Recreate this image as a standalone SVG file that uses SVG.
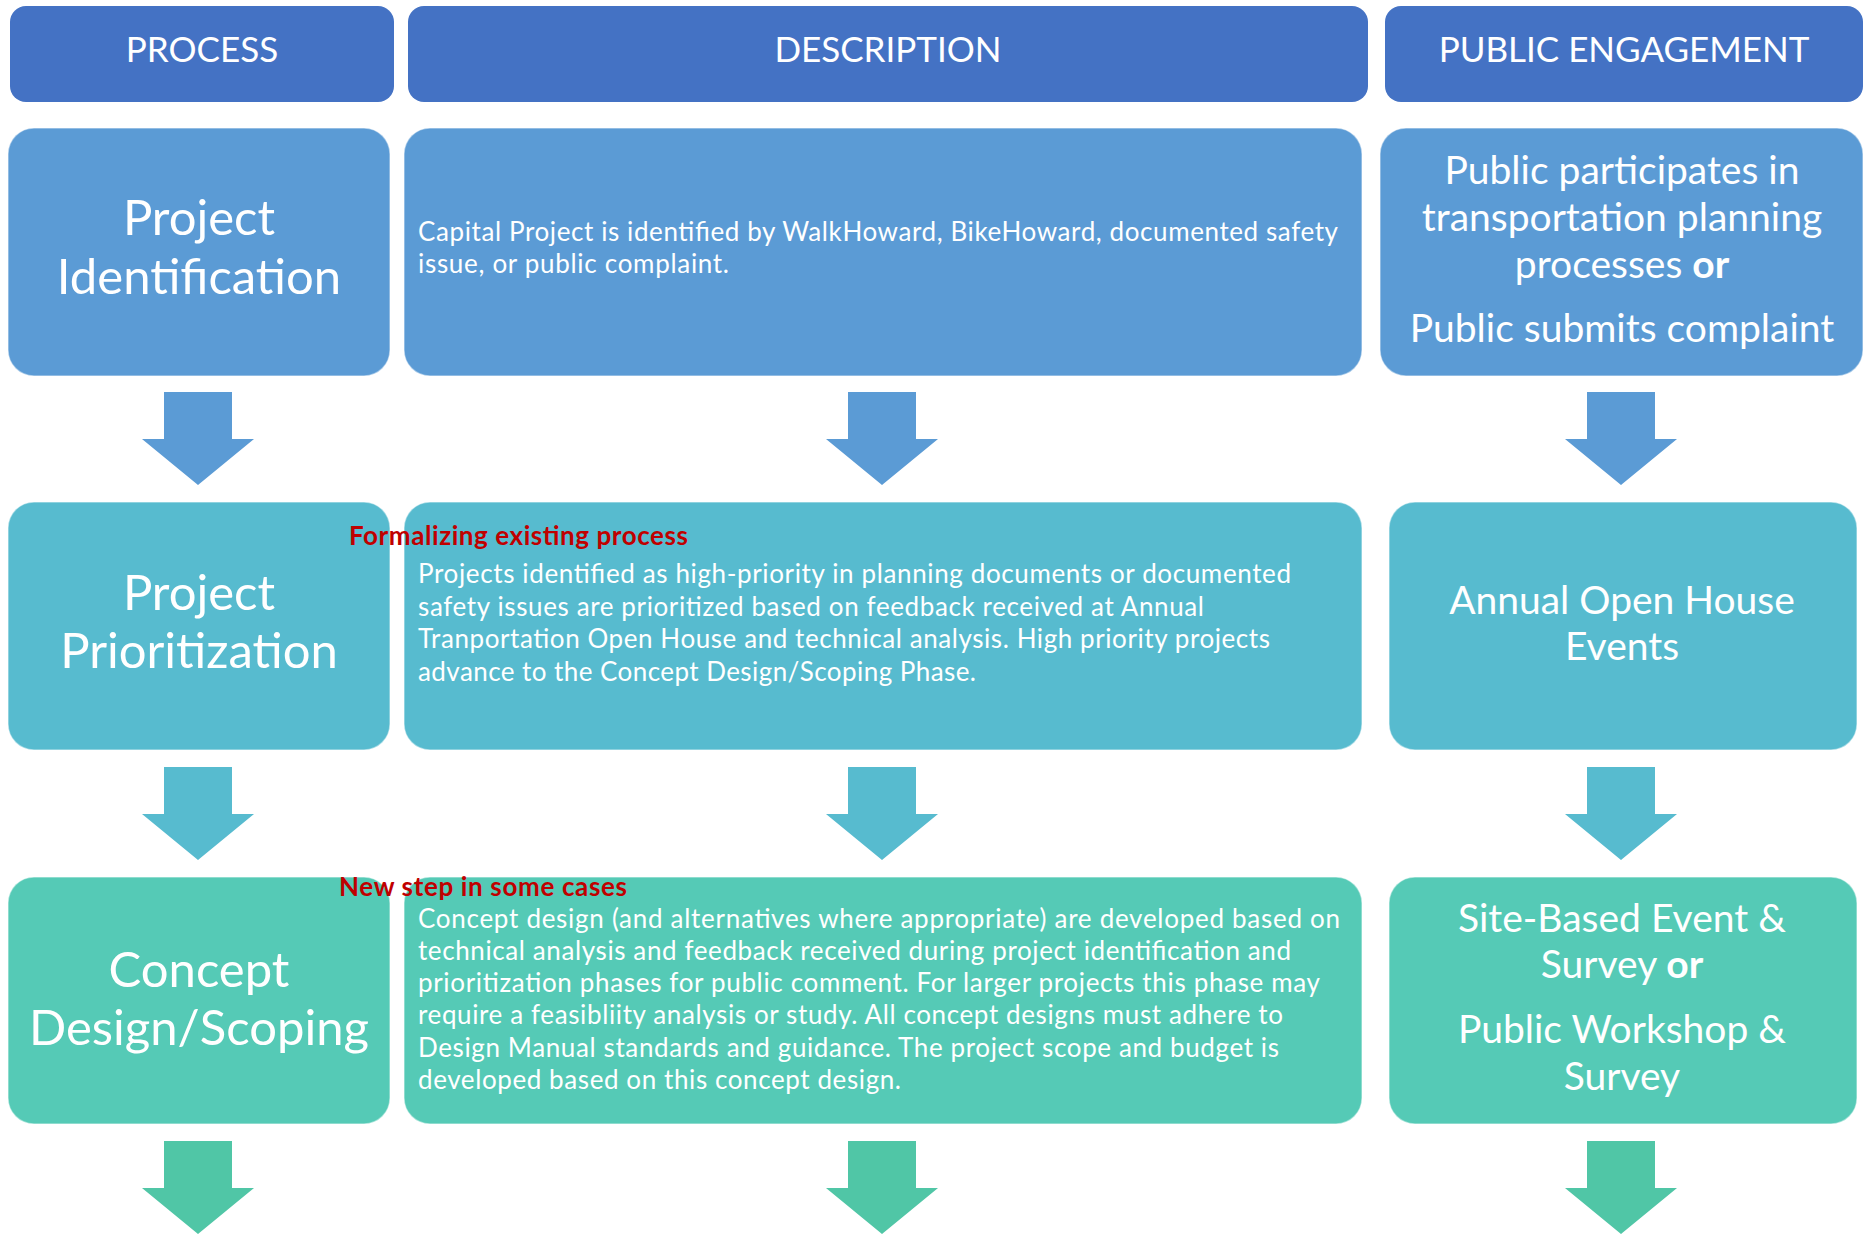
<svg xmlns="http://www.w3.org/2000/svg" width="1864" height="1234" viewBox="0 0 1864 1234">
<defs>
<style>
.hdr{fill:#4472C4}
.r1{fill:#5B9BD5}
.r2{fill:#57BBCF}
.r3{fill:#55CAB6}
.box{stroke:#ffffff;stroke-opacity:0.45;stroke-width:1.5}
.a1{fill:#5B9BD5}
.a2{fill:#57BBCF}
.a3{fill:#50C6A6}
text{font-family:Lato,"Open Sans","Liberation Sans",sans-serif;fill:#ffffff}
.h{font-size:35px;text-anchor:middle}
.p{font-size:49px;text-anchor:middle}
.e{font-size:39px;text-anchor:middle}
.d{font-size:26px}
.red{font-size:26px;font-weight:bold;fill:#C00000}
.b{font-weight:bold}
</style>
<path id="arrow" d="M-34,0 H34 V47 H56 L0,93 L-56,47 H-34 Z"/>
</defs>

<g id="header-process"><rect class="hdr" x="10" y="6" width="384" height="96" rx="16"/><text class="h" x="202" y="62">PROCESS</text></g>
<g id="header-description"><rect class="hdr" x="408" y="6" width="960" height="96" rx="16"/><text class="h" x="888" y="62">DESCRIPTION</text></g>
<g id="header-public"><rect class="hdr" x="1385" y="6" width="478" height="96" rx="16"/><text class="h" x="1624" y="62">PUBLIC ENGAGEMENT</text></g>

<g id="connectors">
<use href="#arrow" class="a1" x="198" y="392"/>
<use href="#arrow" class="a1" x="882" y="392"/>
<use href="#arrow" class="a1" x="1621" y="392"/>
<use href="#arrow" class="a2" x="198" y="767"/>
<use href="#arrow" class="a2" x="882" y="767"/>
<use href="#arrow" class="a2" x="1621" y="767"/>
<use href="#arrow" class="a3" x="198" y="1141"/>
<use href="#arrow" class="a3" x="882" y="1141"/>
<use href="#arrow" class="a3" x="1621" y="1141"/>
</g>

<g id="process-identification"><rect class="r1 box" x="8" y="128" width="382" height="248" rx="26"/>
<text class="p" x="199" y="235">Project</text><text class="p" x="199" y="294">Identification</text></g>

<g id="desc-identification"><rect class="r1 box" x="404" y="128" width="958" height="248" rx="26"/>
<text class="d" x="418" y="241" textLength="920">Capital Project is identified by WalkHoward, BikeHoward, documented safety</text>
<text class="d" x="418" y="273" textLength="311">issue, or public complaint.</text></g>

<g id="public-identification"><rect class="r1 box" x="1380" y="128" width="483" height="248" rx="26"/>
<text class="e" x="1622" y="184">Public participates in</text>
<text class="e" x="1622" y="231">transportation planning</text>
<text class="e" x="1622" y="278">processes <tspan class="b">or</tspan></text>
<text class="e" x="1622" y="342">Public submits complaint</text></g>

<g id="process-prioritization"><rect class="r2 box" x="8" y="502" width="382" height="248" rx="26"/>
<text class="p" x="199" y="610">Project</text><text class="p" x="199" y="668">Prioritization</text></g>

<g id="desc-prioritization"><rect class="r2 box" x="404" y="502" width="958" height="248" rx="26"/>
<text class="d" x="418" y="583" textLength="873">Projects identified as high-priority in planning documents or documented</text>
<text class="d" x="418" y="616" textLength="786">safety issues are prioritized based on feedback received at Annual</text>
<text class="d" x="418" y="648" textLength="852">Tranportation Open House and technical analysis. High priority projects</text>
<text class="d" x="418" y="681" textLength="558">advance to the Concept Design/Scoping Phase.</text></g>

<g id="public-prioritization"><rect class="r2 box" x="1389" y="502" width="468" height="248" rx="26"/>
<text class="e" x="1622" y="614">Annual Open House</text>
<text class="e" x="1622" y="660">Events</text></g>

<g id="process-concept"><rect class="r3 box" x="8" y="877" width="382" height="247" rx="26"/>
<text class="p" x="199" y="987">Concept</text><text class="p" x="199" y="1045">Design/Scoping</text></g>

<g id="desc-concept"><rect class="r3 box" x="404" y="877" width="958" height="247" rx="26"/>
<text class="d" x="418" y="928" textLength="922">Concept design (and alternatives where appropriate) are developed based on</text>
<text class="d" x="418" y="960" textLength="873">technical analysis and feedback received during project identification and</text>
<text class="d" x="418" y="992" textLength="902">prioritization phases for public comment. For larger projects this phase may</text>
<text class="d" x="418" y="1024" textLength="865">require a feasibliity analysis or study. All concept designs must adhere to</text>
<text class="d" x="418" y="1057" textLength="861">Design Manual standards and guidance. The project scope and budget is</text>
<text class="d" x="418" y="1089" textLength="483">developed based on this concept design.</text></g>

<g id="public-concept"><rect class="r3 box" x="1389" y="877" width="468" height="247" rx="26"/>
<text class="e" x="1622" y="932">Site-Based Event &amp;</text>
<text class="e" x="1622" y="978">Survey <tspan class="b">or</tspan></text>
<text class="e" x="1622" y="1043">Public Workshop &amp;</text>
<text class="e" x="1622" y="1090">Survey</text></g>

<g id="note-formalizing"><text class="red" x="349" y="545" textLength="339">Formalizing existing process</text></g>
<g id="note-newstep"><text class="red" x="339" y="896" textLength="288">New step in some cases</text></g>
</svg>
